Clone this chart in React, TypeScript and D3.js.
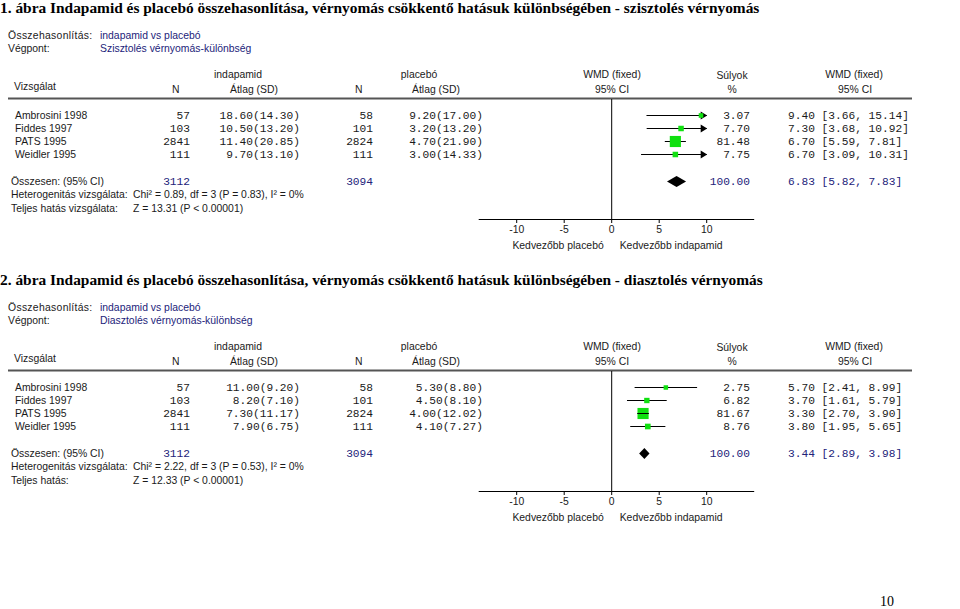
import React from "react";
import * as d3 from "d3";

const W = 960;
const H = 609;

// ---- shared data ----
const studies = ["Ambrosini 1998", "Fiddes 1997", "PATS 1995", "Weidler 1995"];
const indN = [57, 103, 2841, 111];
const plaN = [58, 101, 2824, 111];
const totalIndN = 3112;
const totalPlaN = 3094;
const axisTicks = [-10, -5, 0, 5, 10];

// ---- figure 1: systolic ----
const sysIndMean = [18.6, 10.5, 11.4, 9.7];
const sysIndSD = [14.3, 13.2, 20.85, 13.1];
const sysPlaMean = [9.2, 3.2, 4.7, 3.0];
const sysPlaSD = [17.0, 13.2, 21.9, 14.33];
const sysWeight = [3.07, 7.7, 81.48, 7.75];
const sysWmd = [9.4, 7.3, 6.7, 6.7];
const sysLo = [3.66, 3.68, 5.59, 3.09];
const sysHi = [15.14, 10.92, 7.81, 10.31];
const sysTotal = [6.83, 5.82, 7.83];

// ---- figure 2: diastolic ----
const diaIndMean = [11.0, 8.2, 7.3, 7.9];
const diaIndSD = [9.2, 7.1, 11.17, 6.75];
const diaPlaMean = [5.3, 4.5, 4.0, 4.1];
const diaPlaSD = [8.8, 8.1, 12.02, 7.27];
const diaWeight = [2.75, 6.82, 81.67, 8.76];
const diaWmd = [5.7, 3.7, 3.3, 3.8];
const diaLo = [2.41, 1.61, 2.7, 1.95];
const diaHi = [8.99, 5.79, 3.9, 5.65];
const diaTotal = [3.44, 2.89, 3.98];

const SANS = "'Liberation Sans', Arial, sans-serif";
const MONO = "'Liberation Mono', 'Courier New', monospace";
const SERIF = "'Liberation Serif', 'Times New Roman', serif";
const NAVY = "#23237a";
const TXT = "#1a1a1a";
const GREEN = "#10e010";

const f2 = d3.format(".2f");

const x = d3.scaleLinear().domain([-10, 10]).range([516.7, 706.7]);
const boxSide = d3.scaleSqrt().domain([0, 100]).range([3, 12]);
const rowY = d3.scalePoint<number>().domain([0, 1, 2, 3]).range([115, 154]);

type PanelProps = {
  dy: number;
  title: string;
  endpoint: string;
  totalLabel: string;
  het: string;
  z: string;
  indMean: number[];
  indSD: number[];
  plaMean: number[];
  plaSD: number[];
  weight: number[];
  wmd: number[];
  lo: number[];
  hi: number[];
  total: number[];
};

function Panel(p: PanelProps) {
  const [xmin, xmax] = x.domain();
  const sans = { fontFamily: SANS, fontSize: 10.4, fill: TXT } as const;
  const mono = { fontFamily: MONO, fontSize: 11.2, fill: TXT } as const;
  const axisY = 219;
  const totY = 181;
  return (
    <g transform={`translate(0,${p.dy})`}>
      <text x={0} y={13} fontFamily={SERIF} fontWeight="bold" fontSize={15.4} fill="#000">
        {p.title}
      </text>
      <text x={8} y={35} dy="0.35em" {...sans} letterSpacing={0.3}>Összehasonlítás:</text>
      <text x={100} y={35} dy="0.35em" {...sans} fill={NAVY}>indapamid vs placebó</text>
      <text x={8} y={48} dy="0.35em" {...sans}>Végpont:</text>
      <text x={100} y={48} dy="0.35em" {...sans} fill={NAVY}>{p.endpoint}</text>

      {/* column headers */}
      <text x={14} y={86} dy="0.35em" {...sans}>Vizsgálat</text>
      <text x={172} y={89} dy="0.35em" {...sans}>N</text>
      <text x={238} y={74} dy="0.35em" {...sans} textAnchor="middle">indapamid</text>
      <text x={230} y={89} dy="0.35em" {...sans}>Átlag (SD)</text>
      <text x={355} y={89} dy="0.35em" {...sans}>N</text>
      <text x={419} y={74} dy="0.35em" {...sans} textAnchor="middle">placebó</text>
      <text x={412} y={89} dy="0.35em" {...sans}>Átlag (SD)</text>
      <text x={612} y={74} dy="0.35em" {...sans} textAnchor="middle">WMD (fixed)</text>
      <text x={612} y={89} dy="0.35em" {...sans} textAnchor="middle">95% CI</text>
      <text x={732} y={75} dy="0.35em" {...sans} textAnchor="middle">Súlyok</text>
      <text x={732} y={89} dy="0.35em" {...sans} textAnchor="middle">%</text>
      <text x={854} y={74} dy="0.35em" {...sans} textAnchor="middle">WMD (fixed)</text>
      <text x={855} y={89} dy="0.35em" {...sans} textAnchor="middle">95% CI</text>
      <line x1={8} x2={912} y1={98.5} y2={98.5} stroke="#555" strokeWidth={2} />

      {/* study rows */}
      {studies.map((s, i) => {
        const y = rowY(i) as number;
        const side = boxSide(p.weight[i]);
        const cx = x(p.wmd[i]);
        const x1 = x(Math.max(p.lo[i], xmin));
        const x2 = x(Math.min(p.hi[i], xmax));
        const hidden = x(p.hi[i]) - x(p.lo[i]) < side + 2;
        return (
          <g key={s}>
            <text x={15} y={y} dy="0.35em" {...sans}>{s}</text>
            <text x={190} y={y} dy="0.35em" {...mono} textAnchor="end">{indN[i]}</text>
            <text x={300} y={y} dy="0.35em" {...mono} textAnchor="end">
              {`${f2(p.indMean[i])}(${f2(p.indSD[i])})`}
            </text>
            <text x={373} y={y} dy="0.35em" {...mono} textAnchor="end">{plaN[i]}</text>
            <text x={483} y={y} dy="0.35em" {...mono} textAnchor="end">
              {`${f2(p.plaMean[i])}(${f2(p.plaSD[i])})`}
            </text>
            <line x1={x1} x2={x2} y1={y + 0.5} y2={y + 0.5} stroke="#000" strokeWidth={1} />
            {p.hi[i] > xmax && (
              <polygon
                points={`${x(xmax) - 6},${y - 3.5} ${x(xmax) + 0.5},${y + 0.5} ${x(xmax) - 6},${y + 4.5}`}
                fill="#000"
              />
            )}
            {p.lo[i] < xmin && (
              <polygon
                points={`${x(xmin) + 6},${y - 3.5} ${x(xmin) - 0.5},${y + 0.5} ${x(xmin) + 6},${y + 4.5}`}
                fill="#000"
              />
            )}
            <rect x={cx - side / 2} y={y + 0.5 - side / 2} width={side} height={side} fill={GREEN} />
            {hidden && (
              <line x1={x1} x2={x2} y1={y + 0.5} y2={y + 0.5} stroke="#000" strokeWidth={1} />
            )}
            <text x={750} y={y} dy="0.35em" {...mono} textAnchor="end">{f2(p.weight[i])}</text>
            <text x={788} y={y} dy="0.35em" {...mono}>
              {`${f2(p.wmd[i])} [${f2(p.lo[i])}, ${f2(p.hi[i])}]`}
            </text>
          </g>
        );
      })}

      {/* total */}
      <text x={11} y={totY} dy="0.35em" {...sans}>Összesen: (95% CI)</text>
      <text x={190} y={totY} dy="0.35em" {...mono} fill={NAVY} textAnchor="end">{totalIndN}</text>
      <text x={373} y={totY} dy="0.35em" {...mono} fill={NAVY} textAnchor="end">{totalPlaN}</text>
      <polygon
        points={`${x(p.total[1])},${totY + 0.5} ${x(p.total[0])},${totY - 5} ${x(p.total[2])},${totY + 0.5} ${x(p.total[0])},${totY + 6}`}
        fill="#000"
      />
      <text x={750} y={totY} dy="0.35em" {...mono} fill={NAVY} textAnchor="end">{f2(100)}</text>
      <text x={788} y={totY} dy="0.35em" {...mono} fill={NAVY}>
        {`${f2(p.total[0])} [${f2(p.total[1])}, ${f2(p.total[2])}]`}
      </text>
      <text x={11} y={194} dy="0.35em" {...sans}>Heterogenitás vizsgálata:</text>
      <text x={133} y={194} dy="0.35em" {...sans}>{p.het}</text>
      <text x={11} y={208} dy="0.35em" {...sans}>{p.totalLabel}</text>
      <text x={133} y={208} dy="0.35em" {...sans}>{p.z}</text>

      {/* axis */}
      <line x1={x(0)} x2={x(0)} y1={99} y2={axisY} stroke="#000" strokeWidth={1} />
      <line x1={x(-14)} x2={x(15)} y1={axisY + 0.5} y2={axisY + 0.5} stroke="#000" strokeWidth={1} />
      {axisTicks.map((t) => (
        <g key={t}>
          <line x1={x(t)} x2={x(t)} y1={axisY} y2={axisY + 4} stroke="#000" strokeWidth={1} />
          <text x={x(t)} y={229} dy="0.35em" {...sans} textAnchor="middle">{t}</text>
        </g>
      ))}
      <text x={x(0) - 8} y={245} dy="0.35em" {...sans} textAnchor="end">Kedvezőbb placebó</text>
      <text x={x(0) + 8} y={245} dy="0.35em" {...sans}>Kedvezőbb indapamid</text>
    </g>
  );
}

export default function App() {
  return (
    <div style={{ position: "absolute", left: 0, top: 0, width: W, height: H, background: "#fff" }}>
      <svg width={W} height={H} viewBox={`0 0 ${W} ${H}`} style={{ display: "block" }}>
        <rect width={W} height={H} fill="#fff" />
        <Panel
          dy={0}
          title="1. ábra Indapamid és placebó összehasonlítása, vérnyomás csökkentő hatásuk különbségében - szisztolés vérnyomás"
          endpoint="Szisztolés vérnyomás-különbség"
          totalLabel="Teljes hatás vizsgálata:"
          het="Chi² = 0.89, df = 3 (P = 0.83), I² = 0%"
          z="Z = 13.31 (P < 0.00001)"
          indMean={sysIndMean}
          indSD={sysIndSD}
          plaMean={sysPlaMean}
          plaSD={sysPlaSD}
          weight={sysWeight}
          wmd={sysWmd}
          lo={sysLo}
          hi={sysHi}
          total={sysTotal}
        />
        <Panel
          dy={272}
          title="2. ábra Indapamid és placebó összehasonlítása, vérnyomás csökkentő hatásuk különbségében - diasztolés vérnyomás"
          endpoint="Diasztolés vérnyomás-különbség"
          totalLabel="Teljes hatás:"
          het="Chi² = 2.22, df = 3 (P = 0.53), I² = 0%"
          z="Z = 12.33 (P < 0.00001)"
          indMean={diaIndMean}
          indSD={diaIndSD}
          plaMean={diaPlaMean}
          plaSD={diaPlaSD}
          weight={diaWeight}
          wmd={diaWmd}
          lo={diaLo}
          hi={diaHi}
          total={diaTotal}
        />
        <text x={880} y={606} fontFamily={SERIF} fontSize={14} fill="#000">10</text>
      </svg>
    </div>
  );
}
